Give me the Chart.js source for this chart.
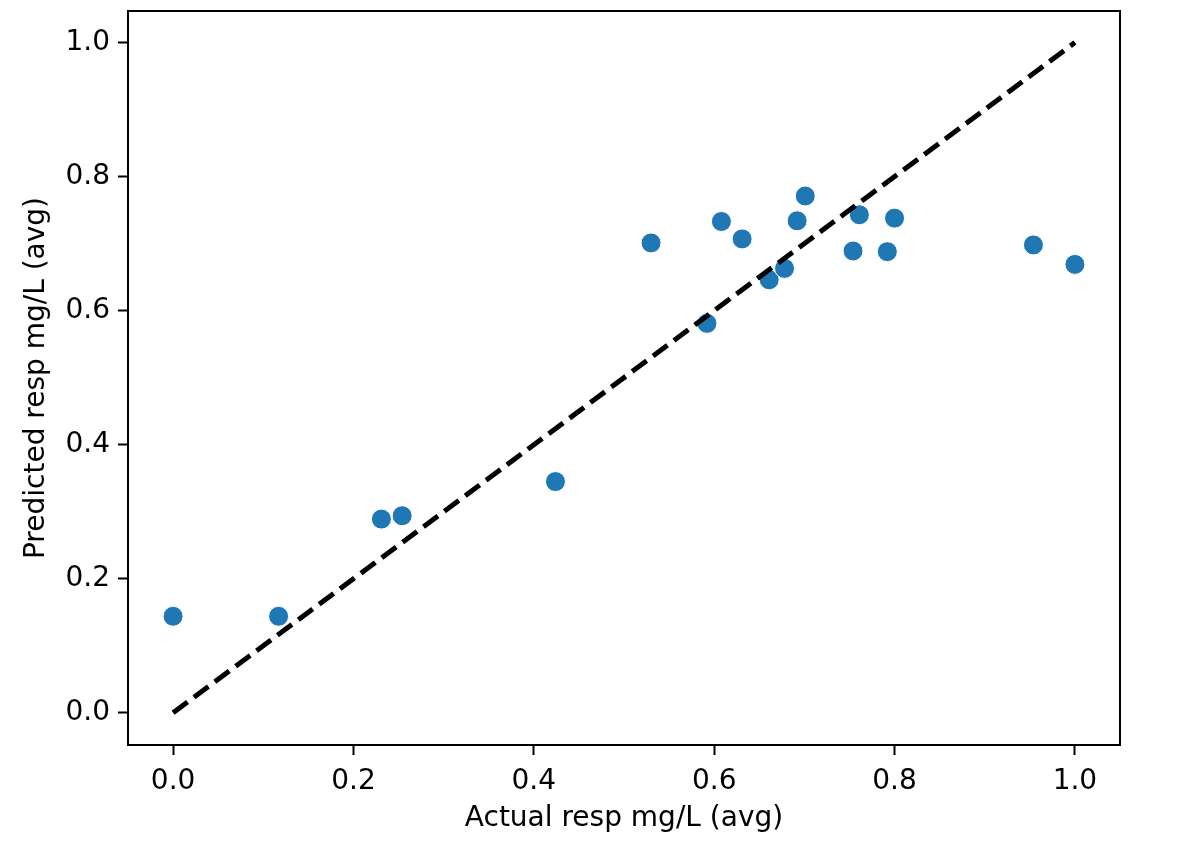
<!DOCTYPE html>
<html>
<head>
<meta charset="utf-8">
<script src="https://cdn.jsdelivr.net/npm/chart.js@4/dist/chart.umd.min.js"></script>
<style>
  body { margin: 0; background: #fff; }
  #wrap { width: 1196px; height: 866px; }
</style>
</head>
<body>
<div id="wrap"><canvas id="myChart"></canvas></div>
<script>
// values
const actualX = [0.0, 0.117, 0.231, 0.254, 0.424, 0.530, 0.592, 0.608, 0.631, 0.661, 0.678, 0.692, 0.701, 0.754, 0.761, 0.792, 0.800, 0.954, 1.0];
const predictedY = [0.144, 0.144, 0.289, 0.294, 0.345, 0.701, 0.581, 0.733, 0.707, 0.646, 0.663, 0.734, 0.771, 0.689, 0.743, 0.688, 0.738, 0.698, 0.669];
const lineX = [0, 1];
const lineY = [0, 1];
const tickVals = [0.0, 0.2, 0.4, 0.6, 0.8, 1.0];

const font = { family: 'DejaVu Sans', size: 28 };

function setTicks(scale) {
  scale.ticks = tickVals.map(v => ({ value: v }));
}

const ctx = document.getElementById('myChart');
const chart = new Chart(ctx, {
  type: 'scatter',
  data: {
    datasets: [{
      label: 'points',
      data: actualX.map((x, i) => ({ x: x, y: predictedY[i] })),
      backgroundColor: '#1f77b4',
      borderColor: '#ffffff',
      borderWidth: 1,
      pointRadius: 10,
      order: 2
    }, {
      label: 'ideal',
      type: 'line',
      data: lineX.map((x, i) => ({ x: x, y: lineY[i] })),
      borderColor: '#000000',
      borderWidth: 5,
      borderDash: [18, 8],
      pointRadius: 0,
      fill: false,
      order: 1
    }]
  },
  options: {
    responsive: true,
    maintainAspectRatio: false,
    animation: false,
    layout: { padding: { top: 2, right: 76, left: 0, bottom: 0 } },
    plugins: { legend: { display: false }, tooltip: { enabled: false } },
    scales: {
      x: {
        type: 'linear',
        min: -0.05,
        max: 1.05,
        afterBuildTicks: setTicks,
        afterFit: s => { s.height = 121; },
        border: { color: '#000', width: 2 },
        grid: { drawOnChartArea: false, color: '#000', tickLength: 10, tickWidth: 2 },
        ticks: { color: '#000', font: font, padding: 10, maxRotation: 0, callback: v => v.toFixed(1) },
        title: { display: true, text: 'Actual resp mg/L (avg)', color: '#000', font: font, padding: { bottom: 30 } }
      },
      y: {
        type: 'linear',
        min: -0.048,
        max: 1.047,
        afterBuildTicks: setTicks,
        afterFit: s => {
          s.width = 128;
          s.paddingTop = 0;
          s.paddingBottom = 0;
        },
        border: { color: '#000', width: 2 },
        grid: { drawOnChartArea: false, color: '#000', tickLength: 10, tickWidth: 2 },
        ticks: { color: '#000', font: font, padding: 8, callback: v => v.toFixed(1) },
        title: { display: true, text: 'Predicted resp mg/L (avg)', color: '#000', font: font, padding: { top: 20 } }
      }
    }
  },
  plugins: [{
    id: 'frame',
    afterDraw(c) {
      const a = c.chartArea, g = c.ctx;
      g.save();
      g.strokeStyle = '#000';
      g.lineWidth = 2;
      g.beginPath();
      g.moveTo(a.left, a.top);
      g.lineTo(a.right, a.top);
      g.lineTo(a.right, a.bottom);
      g.stroke();
      g.restore();
    }
  }]
});
</script>
</body>
</html>
